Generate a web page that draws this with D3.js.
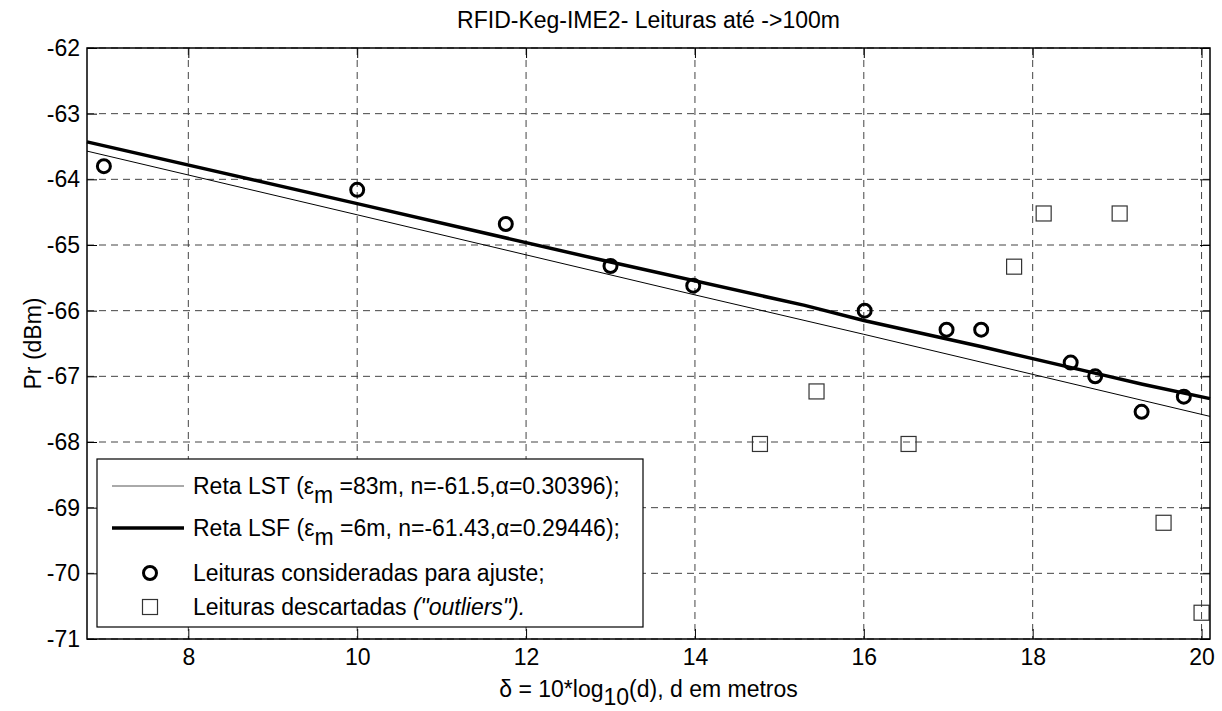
<!DOCTYPE html>
<meta charset="utf-8">
<script src="https://d3js.org/d3.v7.min.js"></script>
<style>
  body { margin: 0; background: #fff; }
  text { font-family: "Liberation Sans", Arial, sans-serif; fill: #000; }
</style>
<div id="chart"></div>
<script>

// readings used for the fit (circles)
var goodX = [7.0, 10.0, 11.76, 13.0, 13.98, 16.01, 16.98, 17.39, 18.45, 18.74, 19.29, 19.79];
var goodY = [-63.8, -64.16, -64.68, -65.32, -65.62, -66.0, -66.29, -66.29, -66.79, -67.0, -67.54, -67.31];

// discarded readings (squares)
var outX = [14.77, 15.44, 16.53, 17.78, 18.13, 19.03, 19.55, 20.0];
var outY = [-68.03, -67.23, -68.03, -65.33, -64.52, -64.52, -69.23, -70.6];

// fitted lines, vertices
var lstX = [6.8, 10, 14, 16, 18, 20.1];
var lstY = [-63.57, -64.54, -65.76, -66.36, -66.97, -67.61];
var lsfX = [6.8, 10, 13, 15.3, 16, 17.4, 18.8, 19.3, 20.1];
var lsfY = [-63.43, -64.37, -65.26, -65.92, -66.15, -66.55, -66.97, -67.12, -67.34];

var xTicks = [8, 10, 12, 14, 16, 18, 20];
var yTicks = [-62, -63, -64, -65, -66, -67, -68, -69, -70, -71];

var W = 1222, H = 711, fs = 23;
var margin = {top: 48, right: 12, bottom: 72, left: 87},
    width = W - margin.left - margin.right,
    height = H - margin.top - margin.bottom;

var svg = d3.select("#chart")
  .append("svg")
    .attr("width", W)
    .attr("height", H);

var g = svg.append("g")
    .attr("transform", "translate(" + margin.left + "," + margin.top + ")");

var x = d3.scaleLinear().domain([6.8, 20.1]).range([0, width]);
var y = d3.scaleLinear().domain([-71, -62]).range([height, 0]);

// grid
g.selectAll(".vgrid").data(xTicks).enter().append("line")
  .attr("x1", function(d) { return x(d); }).attr("x2", function(d) { return x(d); })
  .attr("y1", 0).attr("y2", height)
  .attr("stroke", "#444").attr("stroke-dasharray", "7,5");
g.selectAll(".hgrid").data(yTicks).enter().append("line")
  .attr("y1", function(d) { return y(d); }).attr("y2", function(d) { return y(d); })
  .attr("x1", 0).attr("x2", width)
  .attr("stroke", "#444").attr("stroke-dasharray", "7,5");

// axes (ticks inside, on all four sides), plain hyphen for the minus
var tl = 10;
var fmt = function(d) { return String(d); };
g.append("g").attr("transform", "translate(0," + height + ")")
  .call(d3.axisBottom(x).tickValues(xTicks).tickFormat(fmt).tickSizeInner(-tl).tickSizeOuter(0).tickPadding(10))
  .call(function(a) { a.select(".domain").remove(); a.selectAll("text").attr("font-size", fs).attr("font-family", "Liberation Sans"); });
g.append("g")
  .call(d3.axisTop(x).tickValues(xTicks).tickSizeInner(-tl).tickSizeOuter(0).tickFormat(""))
  .call(function(a) { a.select(".domain").remove(); });
g.append("g")
  .call(d3.axisLeft(y).tickValues(yTicks).tickFormat(fmt).tickSizeInner(-tl).tickSizeOuter(0).tickPadding(7))
  .call(function(a) { a.select(".domain").remove(); a.selectAll("text").attr("font-size", fs).attr("font-family", "Liberation Sans"); });
g.append("g").attr("transform", "translate(" + width + ",0)")
  .call(d3.axisRight(y).tickValues(yTicks).tickSizeInner(-tl).tickSizeOuter(0).tickFormat(""))
  .call(function(a) { a.select(".domain").remove(); });
g.selectAll(".tick line").attr("stroke", "#000");

// fitted lines
var lstData = lstX.map(function(d, i) { return [d, lstY[i]]; });
var lsfData = lsfX.map(function(d, i) { return [d, lsfY[i]]; });
var line = d3.line().x(function(d) { return x(d[0]); }).y(function(d) { return y(d[1]); });

g.append("path").datum(lstData).attr("d", line)
  .attr("fill", "none").attr("stroke", "#000").attr("stroke-width", 1);
g.append("path").datum(lsfData).attr("d", line)
  .attr("fill", "none").attr("stroke", "#000").attr("stroke-width", 3.5);

// points
g.selectAll(".good").data(goodX).enter().append("circle")
  .attr("cx", function(d) { return x(d); })
  .attr("cy", function(d, i) { return y(goodY[i]); })
  .attr("r", 6.5)
  .attr("fill", "none").attr("stroke", "#000").attr("stroke-width", 3);

var sq = 15;
g.selectAll(".out").data(outX).enter().append("rect")
  .attr("x", function(d) { return x(d) - sq / 2; })
  .attr("y", function(d, i) { return y(outY[i]) - sq / 2; })
  .attr("width", sq).attr("height", sq)
  .attr("fill", "none").attr("stroke", "#333").attr("stroke-width", 1.2);

// frame
g.append("rect").attr("width", width).attr("height", height)
  .attr("fill", "none").attr("stroke", "#000").attr("stroke-width", 1.5);

// legend
var leg = svg.append("g");
leg.append("rect").attr("x", 97).attr("y", 459).attr("width", 546).attr("height", 168)
  .attr("fill", "#fff").attr("stroke", "#000").attr("stroke-width", 1.2);
leg.append("line").attr("x1", 112).attr("x2", 184).attr("y1", 486).attr("y2", 486)
  .attr("stroke", "#555").attr("stroke-width", 1);
leg.append("line").attr("x1", 112).attr("x2", 184).attr("y1", 528).attr("y2", 528)
  .attr("stroke", "#000").attr("stroke-width", 3.5);
leg.append("circle").attr("cx", 150).attr("cy", 573).attr("r", 6.5)
  .attr("fill", "none").attr("stroke", "#000").attr("stroke-width", 3);
leg.append("rect").attr("x", 150 - sq / 2).attr("y", 607 - sq / 2).attr("width", sq).attr("height", sq)
  .attr("fill", "none").attr("stroke", "#333").attr("stroke-width", 1.2);

function fitLabel(yy, pre, mid, post) {
  var t = leg.append("text").attr("x", 193).attr("y", yy + 8).attr("font-size", fs);
  t.append("tspan").text(pre + "(\u03b5");
  t.append("tspan").attr("dy", 9).text("m");
  t.append("tspan").attr("dy", -9).text(mid + "\u03b1" + post);
}
fitLabel(486, "Reta LST ", " =83m, n=-61.5,", "=0.30396);");
fitLabel(528, "Reta LSF ", " =6m, n=-61.43,", "=0.29446);");
leg.append("text").attr("x", 193).attr("y", 581).attr("font-size", fs)
  .text("Leituras consideradas para ajuste;");
var t4 = leg.append("text").attr("x", 193).attr("y", 615).attr("font-size", fs);
t4.append("tspan").text("Leituras descartadas ");
t4.append("tspan").attr("font-style", "italic").text("(\"outliers\").");

// titles
svg.append("text").attr("x", margin.left + width / 2).attr("y", 28)
  .attr("text-anchor", "middle").attr("font-size", fs)
  .text("RFID-Keg-IME2- Leituras até ->100m");

var xl = svg.append("text").attr("x", margin.left + width / 2).attr("y", 697)
  .attr("text-anchor", "middle").attr("font-size", fs);
xl.append("tspan").text("\u03b4 = 10*log");
xl.append("tspan").attr("dy", 8).text("10");
xl.append("tspan").attr("dy", -8).text("(d), d em metros");

svg.append("text")
  .attr("transform", "translate(41," + (margin.top + height / 2) + ") rotate(-90)")
  .attr("text-anchor", "middle").attr("font-size", fs)
  .text("Pr (dBm)");

</script>
